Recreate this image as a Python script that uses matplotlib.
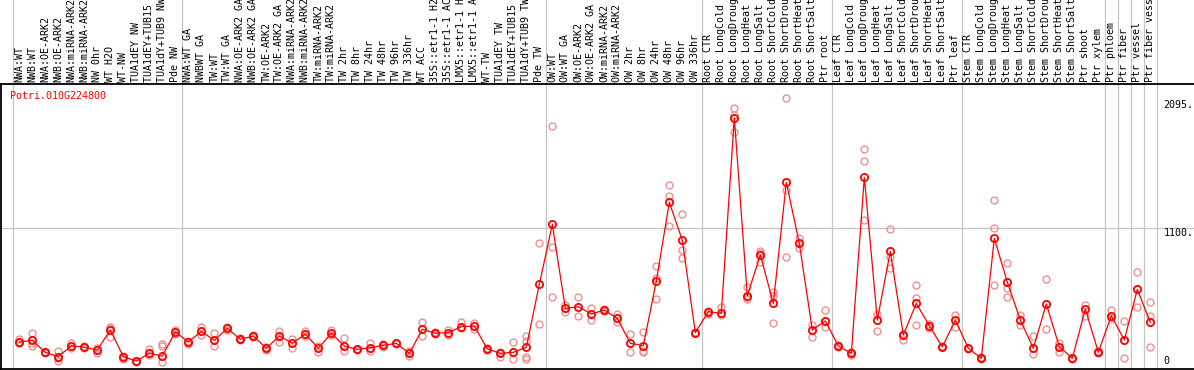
#!/usr/bin/env python3
# -*- coding: utf-8 -*-

import matplotlib
matplotlib.use('Agg')
import matplotlib.pyplot as plt
import matplotlib.transforms as mtransforms


gene = 'Potri.010G224800'

samples = [
    'NWA:WT', 'NWB:WT', 'NWA:OE-ARK2', 'NWB:OE-ARK2', 'NWA:miRNA-ARK2',
    'NWB:miRNA-ARK2', 'NW 0hr', 'WT H2O', 'WT-NW', 'TUA1dEY NW',
    'TUA1dEY+TUB15 NW', 'TUA1dY+TUB9 NW', 'Pde NW',
    'NWA:WT GA', 'NWBWT GA', 'TW:WT', 'TW:WT GA', 'NWA:OE-ARK2 GA',
    'NWB:OE-ARK2 GA', 'TW:OE-ARK2', 'TW:OE-ARK2 GA', 'NWA:miRNA-ARK2 GA',
    'NWB:miRNA-ARK2 GA', 'TW:miRNA-ARK2', 'TW:miRNA-ARK2 GA', 'TW 2hr',
    'TW 8hr', 'TW 24hr', 'TW 48hr', 'TW 96hr', 'TW 336hr', 'WT ACC',
    '35S::etr1-1 H2O', '35S::etr1-1 ACC', 'LMX5::etr1-1 H2O',
    'LMX5::etr1-1 ACC', 'WT-TW', 'TUA1dEY TW', 'TUA1dEY+TUB15 TW',
    'TUA1dY+TUB9 TW', 'Pde TW',
    'OW:WT', 'OW:WT GA', 'OW:OE-ARK2', 'OW:OE-ARK2 GA', 'OW:miRNA-ARK2',
    'OW:miRNA-ARK2 GA', 'OW 2hr', 'OW 8hr', 'OW 24hr', 'OW 48hr', 'OW 96hr',
    'OW 336hr',
    'Root CTR', 'Root LongCold', 'Root LongDrought', 'Root LongHeat',
    'Root LongSalt', 'Root ShortCold', 'Root ShortDrought', 'Root ShortHeat',
    'Root ShortSalt', 'Ptr root',
    'Leaf CTR', 'Leaf LongCold', 'Leaf LongDrought', 'Leaf LongHeat',
    'Leaf LongSalt', 'Leaf ShortCold', 'Leaf ShortDrought', 'Leaf ShortHeat',
    'Leaf ShortSalt', 'Ptr leaf',
    'Stem CTR', 'Stem LongCold', 'Stem LongDrought', 'Stem LongHeat',
    'Stem LongSalt', 'Stem ShortCold', 'Stem ShortDrought', 'Stem ShortHeat',
    'Stem ShortSalt', 'Ptr shoot', 'Ptr xylem',
    'Ptr phloem', 'Ptr fiber', 'Ptr vessel', 'Ptr fiber vessel',
]

# mean expression per sample
means = [
    210, 223, 130, 96, 181, 169, 148, 304, 96, 62, 122, 101, 290,
    210, 293, 223, 317, 231, 257, 161, 257, 200, 272, 161, 278, 179,
    153, 166, 184, 200, 122, 309, 278, 284, 329, 335, 156, 122, 130,
    169, 659,
    1126, 472, 485, 428, 459, 394, 200, 181, 685, 1298, 1002, 283,
    446, 433, 1954, 571, 888, 511, 1453, 978, 304, 374,
    179, 122, 1492, 381, 916, 265, 511, 337, 172, 381,
    161, 83, 1017, 677, 381, 161, 506, 174, 83, 467, 130,
    415, 226, 620, 363,
]

# replicate values per sample
reps = [
    [200, 230, 205], [283, 181, 205], [135, 125], [143, 62, 85], [200, 160],
    [160, 178], [127, 160], [329, 247, 320], [75, 100], [56, 65],
    [156, 110], [195, 179, 54], [300, 275],
    [195, 215], [325, 262], [278, 179], [329, 305], [225, 240], [250, 262],
    [150, 170], [296, 208], [236, 161], [292, 255], [182, 130], [304, 265],
    [239, 140], [150, 158], [200, 143], [175, 195], [195, 205], [140, 101],
    [368, 257], [270, 285], [304, 265], [368, 317], [360, 309], [160, 145],
    [96, 130], [208, 75], [257, 220, 96, 75], [978, 348],
    [1892, 947, 558], [498, 446], [558, 415], [472, 381], [465, 455],
    [428, 363], [270, 130], [286, 130, 140], [802, 711, 547],
    [1430, 1347, 1113], [1204, 926, 862], [280, 288],
    [455, 430], [485, 420], [2030, 1847, 1980], [641, 542, 560],
    [921, 835, 900], [602, 356, 570], [2107, 1393, 869], [1022, 939],
    [342, 247], [459, 325],
    [170, 185], [130, 110], [1710, 1617, 1160], [428, 296],
    [1087, 874, 784], [275, 226], [651, 553, 340], [350, 320], [170, 178],
    [420, 329],
    [165, 155], [90, 78], [1316, 1095, 654], [823, 628, 563], [420, 340],
    [257, 117], [698, 309], [205, 135], [85, 80], [498, 413], [140, 125],
    [459, 394], [376, 83], [753, 485], [519, 413, 174],
]

# last sample index of each group
group_ends = [12, 40, 52, 62, 72, 83, 84, 85, 86, 87]

ytick_vals = [2095, 1100, 0]
ytick_text = ['2095.', '1100.', '0']

W, H = 1194, 370
fig = plt.figure(figsize=(W / 100, H / 100), dpi=100)
ax = fig.add_axes([1 / W, 1 / H, (W - 1) / W, (369 - 84) / H])

x = list(range(len(samples)))
ax.set_xlim(-1.41, 90.36)
ax.set_ylim(0, 2219)

mono = 'DejaVu Sans Mono'
grid_c = '#c4c4c4'

# group separators go all the way up through the labels
top_frac = (369 - 0) / (369 - 84)
ax.axvline(-0.5, ymin=0, ymax=top_frac, color=grid_c, lw=0.9, clip_on=False, zorder=0)
for e in group_ends:
    ax.axvline(e + 0.5, ymin=0, ymax=top_frac, color=grid_c, lw=0.9, clip_on=False, zorder=0)
ax.axhline(1100, color=grid_c, lw=0.9, zorder=0)

# replicates
for i, r in enumerate(reps):
    ax.plot([i] * len(r), r, 'o', mfc='none', mec='#ee9090', ms=5, mew=1.0, zorder=2)

# mean line
ax.plot(x, means, '-', color='red', lw=0.9, zorder=3)
ax.plot(x, means, 'o', mfc='none', mec='red', ms=5.2, mew=1.3, zorder=4)

# sample labels above the plot
trans = mtransforms.blended_transform_factory(ax.transData, ax.transAxes)
for i, s in enumerate(samples):
    ax.text(i, 1.0 + 2 / 285, s, transform=trans, rotation=90, ha='center',
            va='bottom', fontsize=7.2, family=mono, color='black', clip_on=False)

# value labels on the right
for v, t in zip(ytick_vals, ytick_text):
    if v == 0:
        ax.text(88.0, v + 25, t, ha='left', va='bottom', fontsize=7.2, family=mono)
    else:
        ax.text(88.0, v, t, ha='left', va='top', fontsize=7.2, family=mono)

fig.text(10 / W, 1 - 91 / H, gene, color='red', fontsize=7.2, family=mono,
         ha='left', va='top')

ax.set_xticks([])
ax.set_yticks([])
for side in ['left', 'top', 'bottom']:
    ax.spines[side].set_linewidth(1.3)
    ax.spines[side].set_color('black')
ax.spines['right'].set_visible(False)

fig.savefig('out.png', dpi=100)
